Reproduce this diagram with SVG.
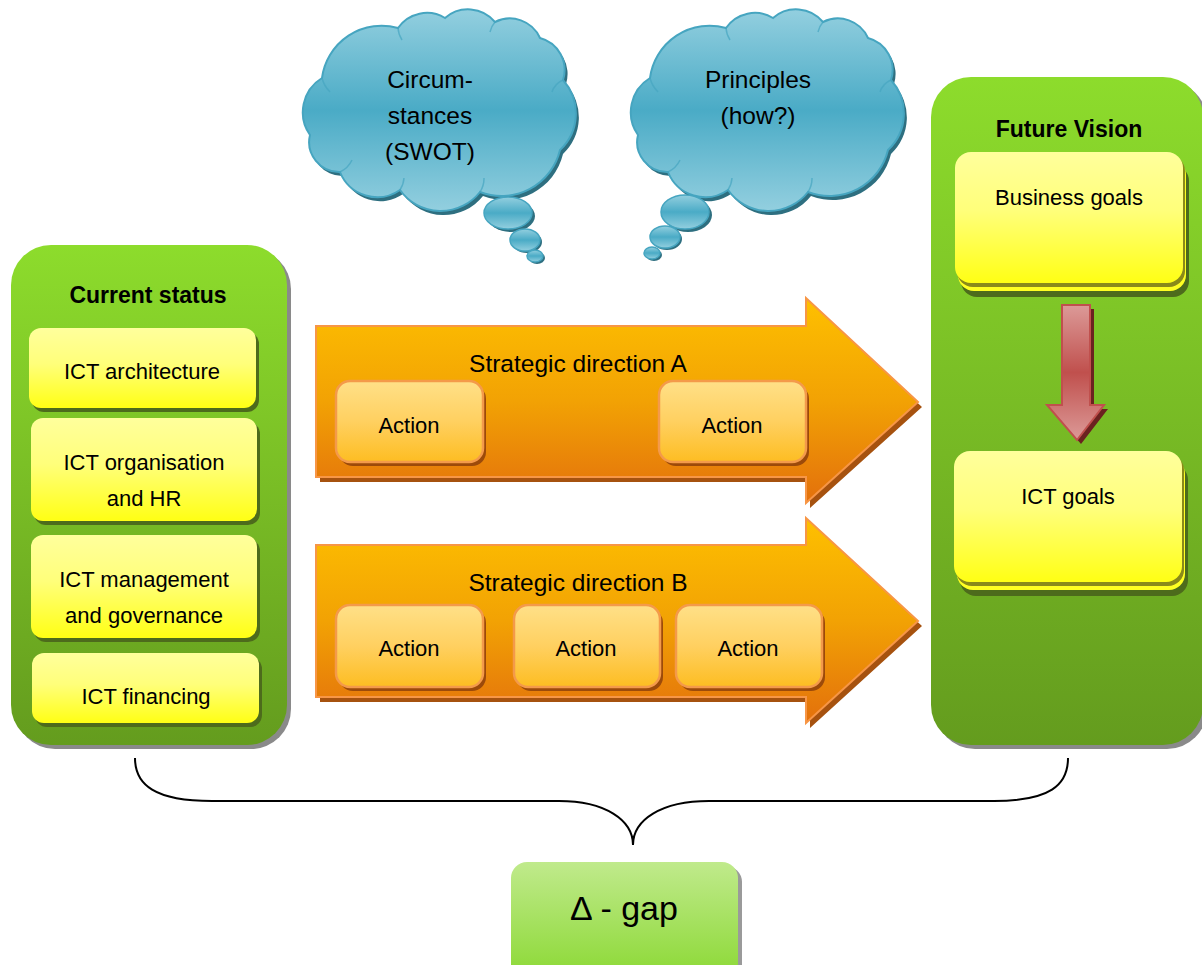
<svg xmlns="http://www.w3.org/2000/svg" width="1202" height="965" viewBox="0 0 1202 965">
  <defs>
    <linearGradient id="gPanel" x1="0" y1="0" x2="0" y2="1">
      <stop offset="0" stop-color="#8ddc2c"/>
      <stop offset="1" stop-color="#649c1e"/>
    </linearGradient>
    <linearGradient id="gYellow" x1="0" y1="0" x2="0" y2="1">
      <stop offset="0" stop-color="#ffff9c"/>
      <stop offset="0.45" stop-color="#ffff7a"/>
      <stop offset="1" stop-color="#ffff14"/>
    </linearGradient>
    <linearGradient id="gOrange" x1="0" y1="0" x2="0" y2="1">
      <stop offset="0" stop-color="#fec000"/>
      <stop offset="0.5" stop-color="#f2a204"/>
      <stop offset="1" stop-color="#e3700c"/>
    </linearGradient>
    <linearGradient id="gAction" x1="0" y1="0" x2="0" y2="1">
      <stop offset="0" stop-color="#ffe088"/>
      <stop offset="0.5" stop-color="#ffd060"/>
      <stop offset="1" stop-color="#fdbd22"/>
    </linearGradient>
    <linearGradient id="gCloud" x1="0" y1="0" x2="0" y2="1">
      <stop offset="0" stop-color="#93cfdf"/>
      <stop offset="0.5" stop-color="#4aabc6"/>
      <stop offset="1" stop-color="#93cfdf"/>
    </linearGradient>
    <linearGradient id="gRed" x1="0" y1="0" x2="0" y2="1">
      <stop offset="0" stop-color="#dc9a98"/>
      <stop offset="0.5" stop-color="#c0504d"/>
      <stop offset="1" stop-color="#dc9a98"/>
    </linearGradient>
    <linearGradient id="gGap" x1="0" y1="0" x2="0" y2="1">
      <stop offset="0" stop-color="#c0ea8c"/>
      <stop offset="1" stop-color="#8ad832"/>
    </linearGradient>
    <!-- cloud outline, drawn in place for the left thought bubble -->
    <path id="cloudShape" d="M310,135 A40,40 0 0 1 322,78 A60,60 0 0 1 398,28 A35,35 0 0 1 445,18 A35,35 0 0 1 495,22 A33,33 0 0 1 540,38 A33,33 0 0 1 563,80 A50,50 0 0 1 560,150 A60,60 0 0 1 480,192 A50,50 0 0 1 400,190 A40,40 0 0 1 340,172 A30,30 0 0 1 310,135 Z"/>
    <!-- faint creases where the cloud lobes overlap -->
    <path id="cloudCreases" d="M322,78 A30,30 0 0 0 330,92 M398,28 A25,25 0 0 0 402,40 M495,22 A22,22 0 0 0 490,32 M563,80 A20,20 0 0 0 552,92 M480,192 A25,25 0 0 0 484,178 M400,190 A25,25 0 0 0 404,178 M340,172 A25,25 0 0 0 352,160"/>
    <style>
      .lbl { font-family: "Liberation Sans", Arial, sans-serif; font-size: 22px; fill: #000; text-anchor: middle; }
      .hdr { font-family: "Liberation Sans", Arial, sans-serif; font-size: 23px; font-weight: bold; fill: #000; text-anchor: middle; }
      .big { font-size: 24.5px; }
      .cloudTxt { font-family: "Liberation Sans", Arial, sans-serif; font-size: 24.5px; fill: #000; text-anchor: middle; }
      .panel { fill: url(#gPanel); }
      .panelShadow { fill: #8a8a8a; }
      .ybox { fill: url(#gYellow); }
      .yshadow { fill: #4d6b1c; }
      .ylayer { fill: #ffff22; }
      .arrow { fill: url(#gOrange); stroke: #f79646; stroke-width: 2; }
      .arrowShadow { fill: #a6520f; }
      .act { fill: url(#gAction); stroke: #f49a4a; stroke-width: 2.5; }
      .actShadow { fill: #9c4a0a; }
      .cloud { fill: url(#gCloud); stroke: #46a5c0; stroke-width: 2; }
      .cloudShadow { fill: #2e6f80; }
      .crease { fill: none; stroke: #46a5c0; stroke-width: 1.5; opacity: 0.7; }
      .bubble { fill: url(#gCloud); stroke: #46a5c0; stroke-width: 1.5; }
      .brace { fill: none; stroke: #000; stroke-width: 2; }
    </style>
  </defs>

  <rect width="1202" height="965" fill="#ffffff"/>

  <!-- thought bubble: circumstances -->
  <g id="cloud-circumstances">
    <use href="#cloudShape" class="cloudShadow" transform="translate(3,4)"/>
    <use href="#cloudShape" class="cloud"/>
    <use href="#cloudCreases" class="crease"/>
    <ellipse cx="511" cy="216" rx="24" ry="16" class="cloudShadow"/>
    <ellipse cx="508" cy="213" rx="24" ry="16" class="bubble"/>
    <ellipse cx="527" cy="242" rx="15" ry="11" class="cloudShadow"/>
    <ellipse cx="525" cy="240" rx="15" ry="11" class="bubble"/>
    <ellipse cx="537" cy="258" rx="8" ry="6" class="cloudShadow"/>
    <ellipse cx="535" cy="256" rx="8" ry="6" class="bubble"/>
    <text class="cloudTxt" x="430" y="88">Circum-</text>
    <text class="cloudTxt" x="430" y="124">stances</text>
    <text class="cloudTxt" x="430" y="160">(SWOT)</text>
  </g>

  <!-- thought bubble: principles -->
  <g id="cloud-principles">
    <use href="#cloudShape" class="cloudShadow" transform="translate(331,4)"/>
    <use href="#cloudShape" class="cloud" transform="translate(328,0)"/>
    <use href="#cloudCreases" class="crease" transform="translate(328,0)"/>
    <ellipse cx="688" cy="215" rx="24" ry="17" class="cloudShadow"/>
    <ellipse cx="685" cy="212" rx="24" ry="17" class="bubble"/>
    <ellipse cx="667" cy="239" rx="15" ry="11" class="cloudShadow"/>
    <ellipse cx="665" cy="237" rx="15" ry="11" class="bubble"/>
    <ellipse cx="654" cy="255" rx="8" ry="6" class="cloudShadow"/>
    <ellipse cx="652" cy="253" rx="8" ry="6" class="bubble"/>
    <text class="cloudTxt" x="758" y="88">Principles</text>
    <text class="cloudTxt" x="758" y="124">(how?)</text>
  </g>

  <!-- current status panel -->
  <g id="current-status">
    <rect x="15" y="249" width="276" height="500" rx="40" class="panelShadow"/>
    <rect x="11" y="245" width="276" height="500" rx="40" class="panel"/>
    <text class="hdr" x="148" y="303">Current status</text>
  </g>
  <g id="ict-architecture">
    <rect x="32" y="332" width="227" height="80" rx="12" class="yshadow"/>
    <rect x="29" y="328" width="227" height="80" rx="12" class="ybox"/>
    <text class="lbl" x="142" y="379">ICT architecture</text>
  </g>
  <g id="ict-organisation">
    <rect x="34" y="422" width="226" height="103" rx="12" class="yshadow"/>
    <rect x="31" y="418" width="226" height="103" rx="12" class="ybox"/>
    <text class="lbl" x="144" y="470">ICT organisation</text>
    <text class="lbl" x="144" y="506">and HR</text>
  </g>
  <g id="ict-management">
    <rect x="34" y="539" width="226" height="103" rx="12" class="yshadow"/>
    <rect x="31" y="535" width="226" height="103" rx="12" class="ybox"/>
    <text class="lbl" x="144" y="587">ICT management</text>
    <text class="lbl" x="144" y="623">and governance</text>
  </g>
  <g id="ict-financing">
    <rect x="35" y="657" width="227" height="70" rx="12" class="yshadow"/>
    <rect x="32" y="653" width="227" height="70" rx="12" class="ybox"/>
    <text class="lbl" x="146" y="704">ICT financing</text>
  </g>

  <!-- future vision panel -->
  <g id="future-vision">
    <rect x="935" y="81" width="272" height="668" rx="40" class="panelShadow"/>
    <rect x="931" y="77" width="272" height="668" rx="40" class="panel"/>
    <text class="hdr" x="1069" y="137">Future Vision</text>
  </g>
  <g id="business-goals">
    <rect x="961" y="165" width="228" height="132" rx="16" class="yshadow"/>
    <rect x="958" y="159" width="228" height="132" rx="16" class="ylayer"/>
    <rect x="957" y="155" width="228" height="132" rx="16" fill="#8a8a1a"/>
    <rect x="955" y="152" width="228" height="131" rx="16" class="ybox"/>
    <text class="lbl" x="1069" y="205">Business goals</text>
  </g>
  <g id="ict-goals">
    <rect x="960" y="464" width="228" height="132" rx="16" class="yshadow"/>
    <rect x="957" y="458" width="228" height="132" rx="16" class="ylayer"/>
    <rect x="956" y="454" width="228" height="132" rx="16" fill="#8a8a1a"/>
    <rect x="954" y="451" width="228" height="131" rx="16" class="ybox"/>
    <text class="lbl" x="1068" y="504">ICT goals</text>
  </g>

  <!-- strategic directions -->
  <g id="direction-a">
    <polygon class="arrowShadow" points="320,331 810,331 810,303 922,407 810,508 810,482 320,482"/>
    <polygon class="arrow" points="316,326 806,326 806,298 918,402 806,503 806,477 316,477"/>
    <text class="lbl big" x="578" y="372">Strategic direction A</text>
  </g>
  <g id="action-a1">
    <rect x="339" y="385" width="147" height="81" rx="14" class="actShadow"/>
    <rect x="336" y="381" width="147" height="81" rx="14" class="act"/>
    <text class="lbl" x="409" y="433">Action</text>
  </g>
  <g id="action-a2">
    <rect x="662" y="385" width="147" height="81" rx="14" class="actShadow"/>
    <rect x="659" y="381" width="147" height="81" rx="14" class="act"/>
    <text class="lbl" x="732" y="433">Action</text>
  </g>

  <g id="direction-b">
    <polygon class="arrowShadow" points="320,550 810,550 810,523 922,626 810,728 810,702 320,702"/>
    <polygon class="arrow" points="316,545 806,545 806,518 918,621 806,723 806,697 316,697"/>
    <text class="lbl big" x="578" y="591">Strategic direction B</text>
  </g>
  <g id="action-b1">
    <rect x="339" y="609" width="147" height="82" rx="14" class="actShadow"/>
    <rect x="336" y="605" width="147" height="82" rx="14" class="act"/>
    <text class="lbl" x="409" y="656">Action</text>
  </g>
  <g id="action-b2">
    <rect x="517" y="609" width="146" height="82" rx="14" class="actShadow"/>
    <rect x="514" y="605" width="146" height="82" rx="14" class="act"/>
    <text class="lbl" x="586" y="656">Action</text>
  </g>
  <g id="action-b3">
    <rect x="679" y="609" width="146" height="82" rx="14" class="actShadow"/>
    <rect x="676" y="605" width="146" height="82" rx="14" class="act"/>
    <text class="lbl" x="748" y="656">Action</text>
  </g>

  <!-- delta gap -->
  <g id="delta-gap">
    <rect x="515" y="866" width="227" height="120" rx="16" fill="#9a9a9a"/>
    <rect x="511" y="862" width="227" height="120" rx="16" fill="url(#gGap)"/>
    <text x="624" y="920" font-family="'Liberation Sans', Arial, sans-serif" font-size="34" text-anchor="middle" fill="#000">Δ - gap</text>
  </g>

  <!-- connectors -->
  <g id="connectors">
    <!-- business goals lead to ICT goals -->
    <polygon fill="#6b2220" points="1066,309 1094,309 1094,409 1108,409 1081,444 1051,409 1066,409"/>
    <polygon fill="url(#gRed)" stroke="#c0504d" stroke-width="2" points="1062,305 1090,305 1090,405 1104,405 1077,440 1047,405 1062,405"/>
    <!-- brace spanning current status to future vision -->
    <path class="brace" d="M135,758 C135,785 155,801 212,801 L559,801 C605,801 633,820 633,845 C633,820 661,801 709,801 L994,801 C1050,801 1068,785 1068,758"/>
  </g>
</svg>
